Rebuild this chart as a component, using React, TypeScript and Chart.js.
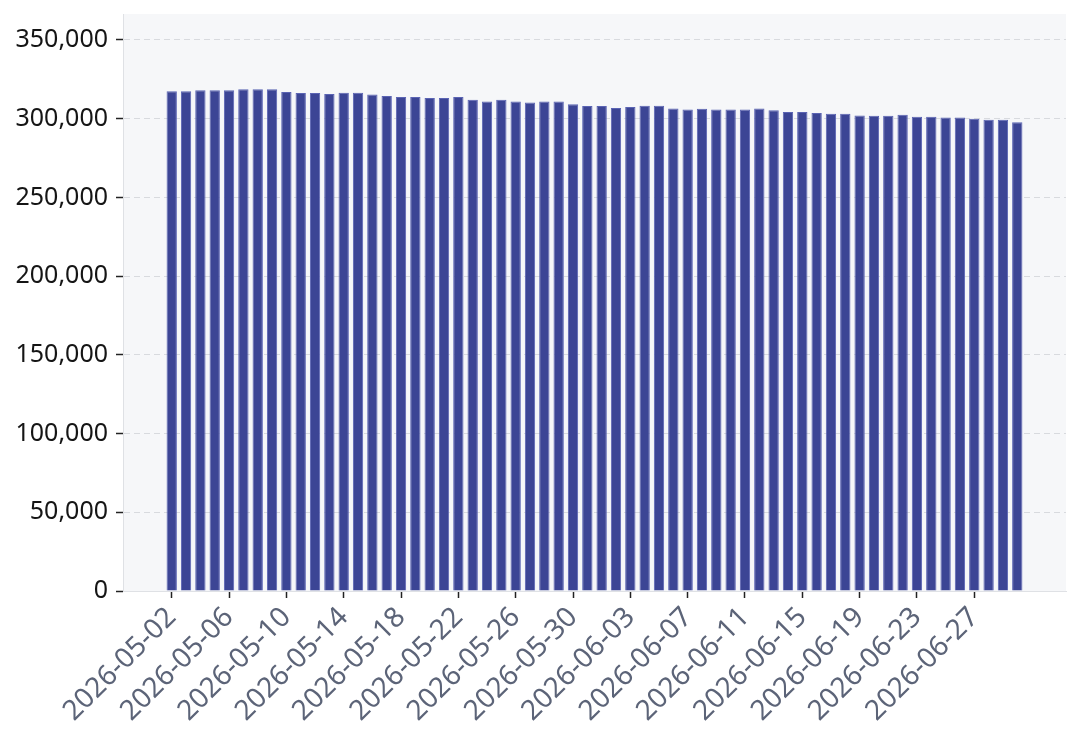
import React, { useEffect, useRef } from "react";
import { Chart, registerables } from "chart.js";

Chart.register(...registerables);

const dates: string[] = [
  "2026-05-02","2026-05-03","2026-05-04","2026-05-05","2026-05-06","2026-05-07","2026-05-08","2026-05-09",
  "2026-05-10","2026-05-11","2026-05-12","2026-05-13","2026-05-14","2026-05-15","2026-05-16","2026-05-17",
  "2026-05-18","2026-05-19","2026-05-20","2026-05-21","2026-05-22","2026-05-23","2026-05-24","2026-05-25",
  "2026-05-26","2026-05-27","2026-05-28","2026-05-29","2026-05-30","2026-05-31","2026-06-01","2026-06-02",
  "2026-06-03","2026-06-04","2026-06-05","2026-06-06","2026-06-07","2026-06-08","2026-06-09","2026-06-10",
  "2026-06-11","2026-06-12","2026-06-13","2026-06-14","2026-06-15","2026-06-16","2026-06-17","2026-06-18",
  "2026-06-19","2026-06-20","2026-06-21","2026-06-22","2026-06-23","2026-06-24","2026-06-25","2026-06-26",
  "2026-06-27","2026-06-28","2026-06-29","2026-06-30",
];

const values: number[] = [
  317400, 317400, 318100, 318100, 318100, 318700, 318700, 318700,
  317000, 316400, 316400, 315700, 316500, 316500, 315400, 314400,
  313800, 313800, 313100, 313100, 313800, 312100, 311000, 312100,
  310900, 310300, 310900, 310900, 309200, 308100, 308100, 306800,
  307400, 308200, 308200, 306500, 305800, 306300, 305800, 305800,
  305800, 306500, 305300, 304300, 304300, 303600, 303200, 303200,
  302000, 301900, 301900, 302500, 301200, 301200, 300800, 300800,
  299900, 299300, 299300, 297700,
];

const yTicks: number[] = [0, 50000, 100000, 150000, 200000, 250000, 300000, 350000];
const xTickEvery = 4;
const yMax = 366500;
const xPad = 3.4;

const plotBg = {
  id: "plotBg",
  beforeDraw(chart: any) {
    const { ctx, chartArea } = chart;
    if (!chartArea) return;
    ctx.save();
    ctx.fillStyle = "#f6f7f9";
    ctx.fillRect(chartArea.left, chartArea.top, chartArea.right - chartArea.left, chartArea.bottom - chartArea.top);
    ctx.restore();
  },
};

export default function App() {
  const ref = useRef<HTMLCanvasElement | null>(null);
  useEffect(() => {
    if (!ref.current) return;
    const chart = new Chart(ref.current, {
      type: "bar",
      data: {
        datasets: [
          {
            data: dates.map((d, i) => ({ x: i, y: values[i] })),
            backgroundColor: "#3c4595",
            borderColor: "#5a63b3",
            borderWidth: 1,
            categoryPercentage: 0.8,
            barPercentage: 0.9,
          },
        ],
      },
      options: {
        animation: false,
        responsive: false,
        maintainAspectRatio: false,
        layout: { padding: { top: 14, right: 14, left: 0, bottom: 0 } },
        plugins: { legend: { display: false }, tooltip: { enabled: false } },
        scales: {
          x: {
            type: "linear",
            offset: false,
            min: -xPad,
            max: dates.length - 1 + xPad,
            afterBuildTicks(scale: any) {
              const t: any[] = [];
              for (let i = 0; i < dates.length; i += xTickEvery) t.push({ value: i });
              scale.ticks = t;
            },
            afterFit(scale: any) {
              scale.height = 144;
              scale.paddingLeft = 0;
              scale.paddingRight = 0;
            },
            ticks: {
              autoSkip: false,
              minRotation: 45,
              maxRotation: 45,
              padding: 3,
              color: "#5c6478",
              font: { family: "'Noto Sans', sans-serif", size: 28 },
              callback: (v: any) => dates[v as number] ?? "",
            },
            grid: {
              display: true,
              offset: false,
              drawOnChartArea: false,
              drawTicks: true,
              tickLength: 7,
              tickColor: "#222222",
              tickWidth: 1.5,
            },
            border: { display: true, color: "#dfe1e5", width: 1 },
          },
          y: {
            min: 0,
            max: yMax,
            afterBuildTicks(scale: any) {
              scale.ticks = yTicks.map((v) => ({ value: v }));
            },
            afterFit(scale: any) {
              scale.width = 123;
              scale.paddingTop = 0;
              scale.paddingBottom = 0;
            },
            ticks: {
              padding: 8,
              color: "#151515",
              font: { family: "'Noto Sans', sans-serif", size: 25 },
              callback: (v: any) => Number(v).toLocaleString("en-US"),
            },
            grid: {
              color: "#d8dade",
              lineWidth: 1,
              tickLength: 7,
              tickColor: "#222222",
              tickWidth: 1.5,
            },
            border: { display: true, color: "#dfe1e5", width: 1, dash: [6, 4] },
          },
        },
      },
      plugins: [plotBg],
    });
    return () => chart.destroy();
  }, []);
  return (
    <div style={{ position: "fixed", left: 0, top: 0, width: 1080, height: 735, background: "#ffffff" }}>
      <canvas ref={ref} width={1080} height={735} style={{ width: 1080, height: 735 }} />
    </div>
  );
}
